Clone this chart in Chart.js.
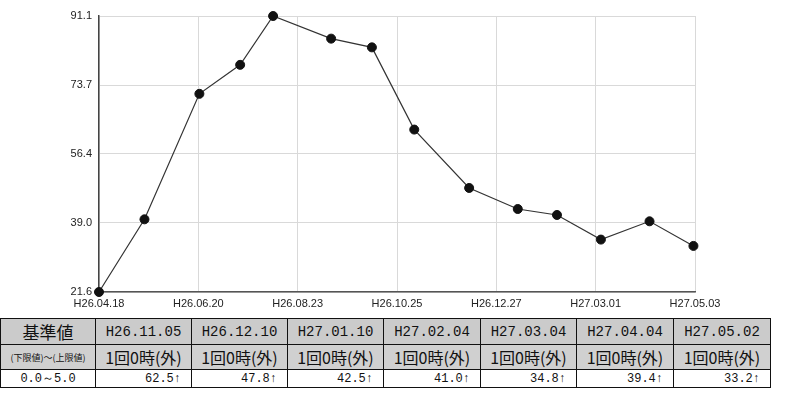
<!DOCTYPE html>
<html>
<head>
<meta charset="utf-8">
<script src="https://cdn.jsdelivr.net/npm/chart.js@4.4.1/dist/chart.umd.min.js"></script>
<style>
  html, body { margin:0; padding:0; background:#fff; width:800px; height:396px; overflow:hidden; }
  #wrap { position:relative; width:800px; height:396px; }
  #c { position:absolute; left:0; top:0; }
  table { position:absolute; left:0; top:318px; border-collapse:collapse; table-layout:fixed; }
  td { border:1.5px solid #111; padding:0; text-align:center; color:#111; overflow:hidden; white-space:nowrap; }
  tr.r1 td { height:23px; background:#cbcbcb; font-family:"Liberation Mono", monospace; font-size:14px; }
  tr.r2 td { height:23px; background:#d0d0d0; font-family:"Noto Sans CJK JP", sans-serif; font-size:16px; }
  tr.r3 td { height:17px; background:#fff; font-family:"Liberation Mono", monospace; font-size:12px; text-align:right; padding-right:10px; }
  tr.r1 td.lh { font-family:"Noto Sans CJK JP", serif; font-size:17px; font-weight:normal; }
  tr.r2 td.lh { font-size:9px; }
  tr.r3 td.lh { text-align:center; padding-right:0; }
</style>
</head>
<body>
<div id="wrap">
<canvas id="c" width="800" height="314"></canvas>
<table id="tbl"></table>
</div>
<script>
// ---- data ----
const sampleDays   = [0, 29, 64, 90, 111, 148, 174, 201, 236, 267, 292, 320, 351, 379];
const sampleValues = [21.6, 39.9, 71.5, 78.8, 91.1, 85.4, 83.2, 62.5, 47.8, 42.5, 41.0, 34.8, 39.4, 33.2];
const xTickDays    = [0, 63.33, 126.67, 190, 253.33, 316.67, 380];
const xTickLabels  = ['H26.04.18','H26.06.20','H26.08.23','H26.10.25','H26.12.27','H27.03.01','H27.05.03'];
const yTickValues  = [21.6, 39.0, 56.4, 73.7, 91.1];
const yTickLabels  = ['21.6','39.0','56.4','73.7','91.1'];

const tableHeader  = ['基準値', '(下限値)～(上限値)', '0.0～5.0'];
const tableDates   = ['H26.11.05','H26.12.10','H27.01.10','H27.02.04','H27.03.04','H27.04.04','H27.05.02'];
const tableModes   = ['1回0時(外)','1回0時(外)','1回0時(外)','1回0時(外)','1回0時(外)','1回0時(外)','1回0時(外)'];
const tableValues  = ['62.5','47.8','42.5','41.0','34.8','39.4','33.2'];
const tableFlag    = '↑';

// ---- table ----
const colW = [95, 96, 96, 96, 97, 96, 97, 97];
const tbl = document.getElementById('tbl');
let cg = '<colgroup>' + colW.map(w => `<col style="width:${w}px">`).join('') + '</colgroup>';
let r1 = `<tr class="r1"><td class="lh">${tableHeader[0]}</td>` + tableDates.map(d => `<td>${d}</td>`).join('') + '</tr>';
let r2 = `<tr class="r2"><td class="lh">${tableHeader[1]}</td>` + tableModes.map(d => `<td>${d}</td>`).join('') + '</tr>';
let r3 = `<tr class="r3"><td class="lh">${tableHeader[2]}</td>` + tableValues.map(d => `<td>${d}${tableFlag}</td>`).join('') + '</tr>';
tbl.style.width = colW.reduce((a,b)=>a+b,0) + 'px';
tbl.innerHTML = cg + r1 + r2 + r3;

// ---- chart ----
new Chart(document.getElementById('c'), {
  type: 'scatter',
  data: {
    datasets: [{
      data: sampleDays.map((d, i) => ({ x: d, y: sampleValues[i] })),
      showLine: true,
      borderColor: '#333',
      borderWidth: 1.2,
      pointRadius: 4.5,
      pointBackgroundColor: '#111',
      pointBorderColor: '#111',
      pointBorderWidth: 1,
      clip: false
    }]
  },
  options: {
    responsive: false,
    animation: false,
    plugins: { legend: { display: false }, tooltip: { enabled: false } },
    layout: { padding: { left: 0, right: 105, top: 16, bottom: 0 } },
    scales: {
      x: {
        type: 'linear', min: 0, max: 380,
        afterBuildTicks: s => { s.ticks = xTickDays.map(v => ({ value: v })); },
        afterFit: s => { s.height = 22; },
        ticks: {
          callback: (v, i) => xTickLabels[i],
          maxRotation: 0, autoSkip: false,
          font: { family: 'Liberation Sans', size: 11 }, color: '#222', padding: 5
        },
        grid: { color: '#d9d9d9', drawTicks: false },
        border: { color: '#555', width: 1.5 }
      },
      y: {
        type: 'linear', min: 21.6, max: 91.1,
        afterBuildTicks: s => { s.ticks = yTickValues.map(v => ({ value: v })); },
        afterFit: s => { s.width = 99; },
        ticks: {
          callback: (v, i) => yTickLabels[i],
          font: { family: 'Liberation Sans', size: 11 }, color: '#222', padding: 7
        },
        grid: { color: '#d9d9d9', drawTicks: false },
        border: { color: '#444', width: 1.5 }
      }
    }
  }
});
</script>
</body>
</html>
